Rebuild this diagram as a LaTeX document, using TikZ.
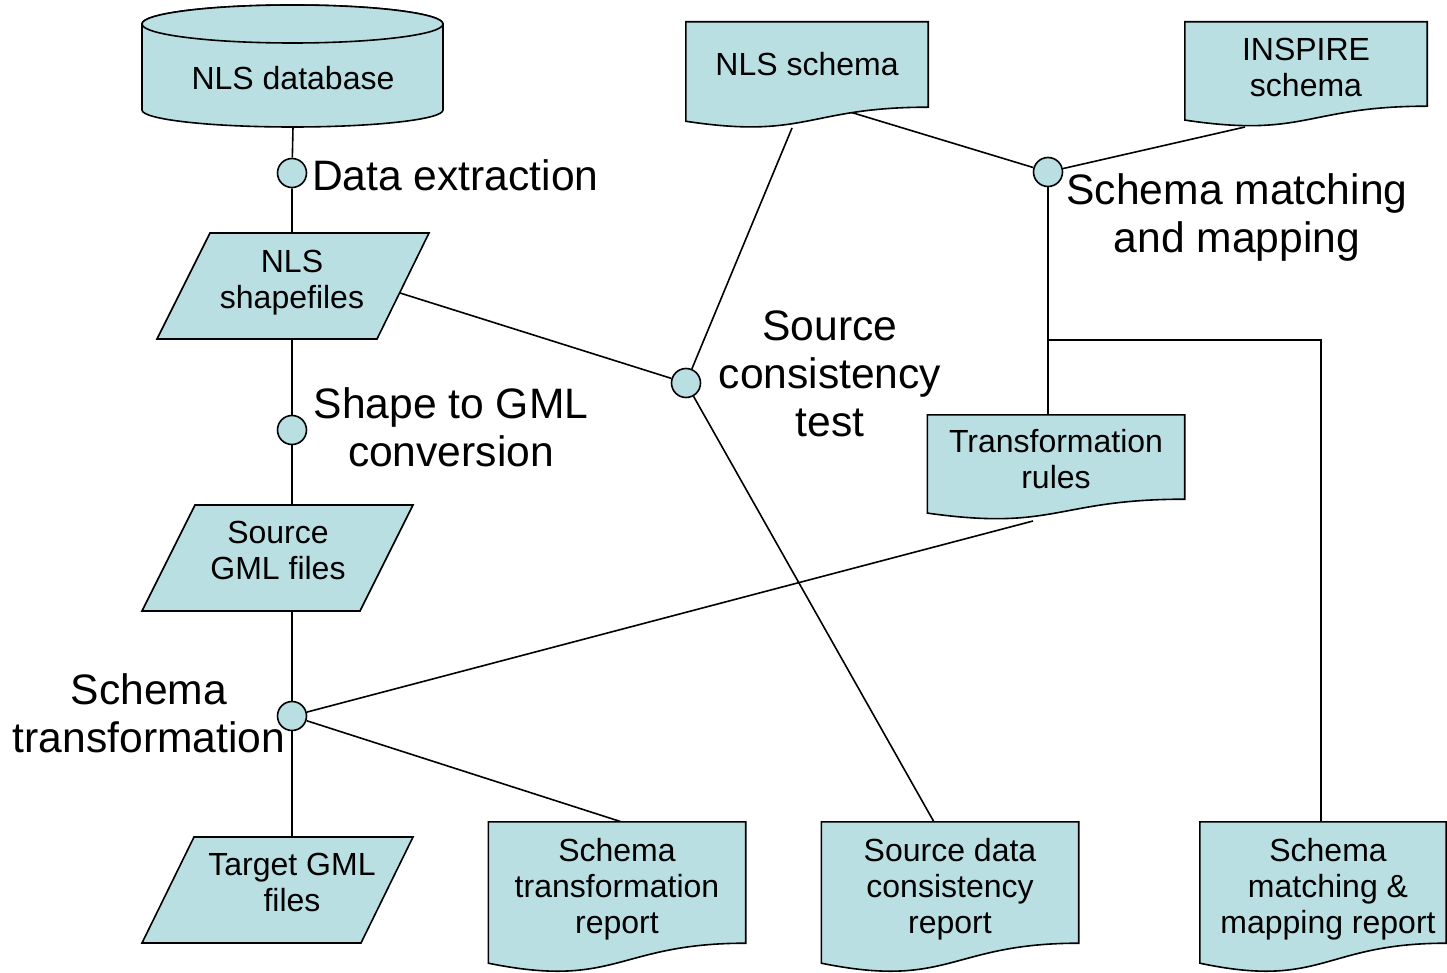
\documentclass[tikz,border=0pt]{standalone}
\usepackage{fontspec}
\setmainfont{Liberation Sans}
\usetikzlibrary{calc,backgrounds}
\definecolor{boxfill}{RGB}{185,223,227}
\tikzset{
  shp/.style={fill=boxfill,draw=black,line width=1.6pt,line join=miter},
  txt/.style={draw=none,fill=none,align=center,inner sep=0pt,font=\fontsize{32}{36}\selectfont},
  big/.style={draw=none,fill=none,align=center,inner sep=0pt,font=\fontsize{42.6}{48}\selectfont},
  proc/.style={circle,fill=boxfill,draw=black,line width=1.6pt,minimum size=29pt,inner sep=0pt},
  conn/.style={draw=black,line width=1.6pt},
}
\newcommand{\docshape}[1]{%
  \path[shp] (#1.north west) -- (#1.north east) -- (#1.south east)
    .. controls (#1.south) and ($(#1.north)!1.38!(#1.south)$) ..
    ($(#1.north west)!1.1646!(#1.south west)$) -- cycle;}
\begin{document}
\begin{tikzpicture}[x={(1pt,0)},y={(0,-1pt)}]
\useasboundingbox (0,0) rectangle (1447,973);

% ---------- nodes ----------
\node[txt,minimum width=300pt,minimum height=98pt] (db) at (293,78) {NLS database};
\node[txt,minimum width=242pt,minimum height=85pt,
  label={[txt]center:NLS schema}] (nlss) at (807,64.5) {};
\node[txt,minimum width=242pt,minimum height=84pt,
  label={[txt,yshift=-3pt]center:INSPIRE\\schema}] (insp) at (1306,64) {};
\node[txt,minimum width=218pt,minimum height=92pt] (shp) at (292,283) {NLS\\shapefiles};
\node[txt,minimum width=218pt,minimum height=90pt] (sgml) at (278,550) {Source\\GML files};
\node[txt,minimum width=218pt,minimum height=90pt] (tgml) at (292,882) {Target GML\\files};
\node[txt,minimum width=257pt,minimum height=84pt,
  label={[txt,yshift=-2pt]center:Transformation\\rules}] (rules) at (1056,457) {};
\node[txt,minimum width=257pt,minimum height=121pt,
  label={[txt,yshift=-7pt]center:Schema\\transformation\\report}] (strep) at (617,882.5) {};
\node[txt,minimum width=257pt,minimum height=121pt,
  label={[txt,yshift=-7pt]center:Source data\\consistency\\report}] (screp) at (950,882.5) {};
\node[txt,minimum width=246pt,minimum height=121pt,
  label={[txt,yshift=-7pt,xshift=5pt]center:Schema\\matching \&\\mapping report}] (smrep) at (1323,882.5) {};

\node[proc] (pext) at (292,173) {};
\node[proc] (pconv) at (292,430) {};
\node[proc] (ptrans) at (292,716) {};
\node[proc] (pcons) at (686,383) {};
\node[proc] (pmatch) at (1048,172) {};
\coordinate (split) at (1048,340);
\coordinate (corner) at (1321,340);
\coordinate (nlssa) at (792,128);
\coordinate (nlssb) at (850,112);
\coordinate (inspa) at (1245,127);
\coordinate (rulesa) at (1033,521);
\coordinate (shpa) at (400,293);
\coordinate (screpa) at (934,822);
\coordinate (strepa) at (622,822);

\node[big,anchor=west] (lext) at (312,175) {Data extraction};
\node[big] (lconv) at (451,427) {Shape to GML\\conversion};
\node[big] (ltrans) at (149,713) {Schema\\transformation};
\node[big] (lcons) at (830,374) {Source\\consistency\\test};
\node[big] (lmatch) at (1237,217) {Schema matching\\and mapping};

% ---------- connectors and shapes ----------
\begin{scope}[on background layer]
  % connectors (under the shapes)
  \draw[conn] (db.south) -- (pext) -- (shp.north);
  \draw[conn] (shp.south) -- (pconv) -- (pconv |- sgml.north);
  \draw[conn] (pconv |- sgml.south) -- (ptrans) -- (tgml.north);
  \draw[conn] (ptrans) -- (rulesa);
  \draw[conn] (ptrans) -- (strepa);
  \draw[conn] (shpa) -- (pcons);
  \draw[conn] (nlssa) -- (pcons);
  \draw[conn] (pcons) -- (screpa);
  \draw[conn] (nlssb) -- (pmatch);
  \draw[conn] (inspa) -- (pmatch);
  \draw[conn] (pmatch) -- (split) -- (rules.north -| split);
  \draw[conn] (split) -- (corner) -- (corner |- smrep.north);
  % cylinder
  \path[shp] (142,24) -- (142,110) arc[start angle=180,end angle=0,x radius=150.5,y radius=17]
     -- (443,24) arc[start angle=0,end angle=-180,x radius=150.5,y radius=19] -- cycle;
  \path[shp] (292.5,24) ellipse[x radius=150.5,y radius=19];
  % parallelograms
  \path[shp] (157,339) -- (210,233) -- (429,233) -- (377,339) -- cycle;
  \path[shp] (142,611) -- (195,505) -- (413,505) -- (360,611) -- cycle;
  \path[shp] (142,943) -- (194,837) -- (413,837) -- (361,943) -- cycle;
  % documents
  \docshape{nlss}
  \docshape{insp}
  \docshape{rules}
  \docshape{strep}
  \docshape{screp}
  \docshape{smrep}
\end{scope}
\end{tikzpicture}
\end{document}
